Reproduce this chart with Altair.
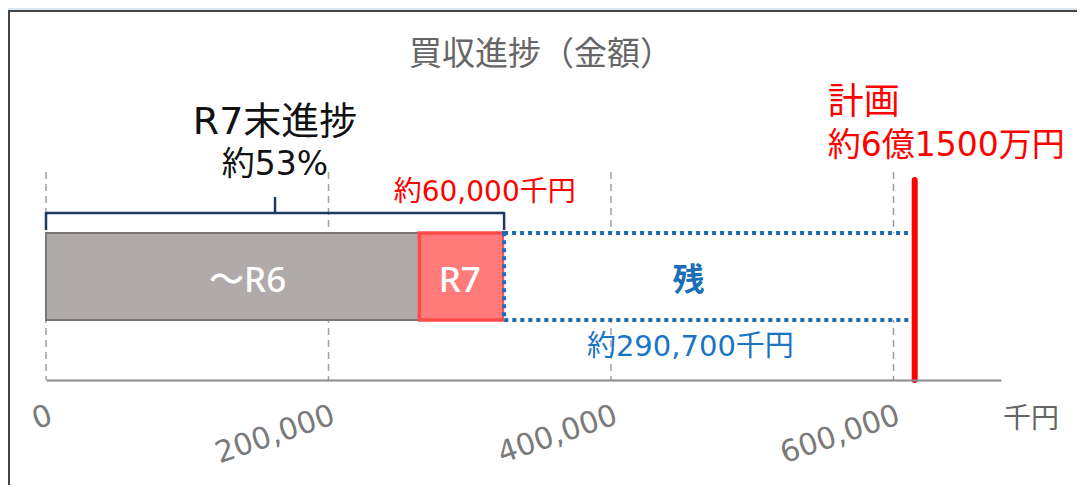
import altair as alt
import pandas as pd

# ---- data ----
segments = ["～R6", "R7", "残"]
values = [264300, 60000, 290700]
plan_value = 615000
tick_values = [0, 200000, 400000, 600000]
title_text = "買収進捗（金額）"
unit_text = "千円"
progress_label = "R7末進捗"
progress_pct = "約53%"
r7_amount = "約60,000千円"
rest_amount = "約290,700千円"
plan_label = "計画"
plan_amount = "約6億1500万円"

starts = [sum(values[:i]) for i in range(len(values))]
df = pd.DataFrame({
    "seg": segments,
    "start": starts,
    "end": [s + v for s, v in zip(starts, values)],
    "row": ["金額"] * 3,
})
df["mid"] = (df["start"] + df["end"]) / 2
done_total = values[0] + values[1]

JP = "Noto Sans CJK JP"
MIX = "DejaVu Sans, Noto Sans CJK JP"
SEMI = "Noto Sans, Noto Sans CJK JP"
xs = alt.Scale(domain=[0, 676100], range=[38, 993])
ys = alt.Scale(range=[225, 312], paddingInner=0, paddingOuter=0)

base = alt.Chart(df)

# panel
panel = alt.Chart(pd.DataFrame({"a": [0]})).mark_rect(
    fill="white", stroke="#444444", strokeWidth=2
).encode(x=alt.value(1), x2=alt.value(1090), y=alt.value(3), y2=alt.value(500))

# grid lines + axis
grid = alt.Chart(pd.DataFrame({"t": tick_values})).mark_rule(
    color="#a0a0a0", strokeWidth=1.5, strokeDash=[7, 5]
).encode(
    x=alt.X("t:Q", scale=xs,
            axis=alt.Axis(values=tick_values, format=",d", title=None, grid=False,
                          ticks=False, domainColor="#8a8a8a", domainWidth=2,
                          labelFont="DejaVu Sans", labelFontSize=30, labelColor="#7a7a7a",
                          labelAngle=341, labelAlign="right", labelBaseline="top",
                          labelPadding=20, labelFlush=False, labelOverlap=False,
                          zindex=1)),
    y=alt.value(164), y2=alt.value(372),
)

def seg_bar(name, **kw):
    return base.transform_filter(alt.datum.seg == name).mark_bar(**kw).encode(
        x=alt.X("start:Q", scale=xs), x2="end:Q",
        y=alt.Y("row:N", scale=ys, axis=None),
    )

bar_r6 = seg_bar("～R6", fill="#b0abaa", stroke="#7a7674", strokeWidth=2)
bar_r7 = seg_bar("R7", fill="#ff7b7b", stroke="#ff4a4a", strokeWidth=3.5)
bar_rest = seg_bar("残", fill="white", stroke="#1f6cb0", strokeWidth=4,
                   strokeDash=[4, 4], strokeCap="butt")

# brace
bdf = pd.DataFrame({"s": [0], "e": [done_total], "m": [done_total / 2]})
bc = "#1f3864"
brace_h = alt.Chart(bdf).mark_rule(color=bc, strokeWidth=2.5).encode(
    x=alt.X("s:Q", scale=xs), x2="e:Q", y=alt.value(205))
brace_l = alt.Chart(bdf).mark_rule(color=bc, strokeWidth=2.5).encode(
    x=alt.X("s:Q", scale=xs), y=alt.value(204), y2=alt.value(222))
brace_r = alt.Chart(bdf).mark_rule(color=bc, strokeWidth=2.5).encode(
    x=alt.X("e:Q", scale=xs), y=alt.value(204), y2=alt.value(222))
brace_m = alt.Chart(bdf).mark_rule(color=bc, strokeWidth=2.5).encode(
    x=alt.X("m:Q", scale=xs), y=alt.value(189), y2=alt.value(206))

# plan line
pdf = pd.DataFrame({"p": [plan_value]})
plan_line = alt.Chart(pdf).mark_rule(color="#ff0000", strokeWidth=6, strokeCap="round").encode(
    x=alt.X("p:Q", scale=xs), y=alt.value(172), y2=alt.value(372))

def txt(data, field, text, y, size, color, dx=0, align="center", weight="normal", font=MIX):
    return alt.Chart(data).mark_text(
        text=text, font=font, fontSize=size, color=color, dx=dx,
        align=align, baseline="middle", fontWeight=weight
    ).encode(x=alt.X(field, scale=xs), y=alt.value(y))

title = alt.Chart(pd.DataFrame({"a": [0]})).mark_text(
    text=title_text, font=JP, fontSize=33, color="#666666", align="center", baseline="middle"
).encode(x=alt.value(533), y=alt.value(47))

unit = alt.Chart(pd.DataFrame({"a": [0]})).mark_text(
    text=unit_text, font=JP, fontSize=28, color="#666666", align="left", baseline="middle"
).encode(x=alt.value(995), y=alt.value(412))

t_prog = txt(bdf, "m:Q", progress_label, 115, 38, "#111111")
t_pct = txt(bdf, "m:Q", progress_pct, 157, 33, "#111111")

r6 = df[df.seg == "～R6"]
r7 = df[df.seg == "R7"]
rest = df[df.seg == "残"]

t_r6 = txt(r6, "mid:Q", "～R6", 273, 35, "white", dx=15, weight=500, font=SEMI)
t_r7 = txt(r7, "mid:Q", "R7", 273, 35, "white", dx=-2, weight=500, font=SEMI)
t_rest = txt(rest, "mid:Q", "残", 273, 32, "#1a6fb8", dx=-21, weight="bold", font=JP)
t_r7amt = txt(r7, "mid:Q", r7_amount, 185, 28, "#ff0000", dx=23)
t_restamt = txt(rest, "mid:Q", rest_amount, 339, 29, "#1a75c4", dx=-19)
t_plan = txt(pdf, "p:Q", plan_label, 95, 36, "#ff0000", dx=-87, align="left", font=JP)
t_planamt = txt(pdf, "p:Q", plan_amount, 138, 33, "#ff0000", dx=-87, align="left")

chart = alt.layer(
    panel, grid, bar_r6, bar_r7, bar_rest,
    brace_h, brace_l, brace_r, brace_m, plan_line,
    title, unit, t_prog, t_pct, t_r6, t_r7, t_rest, t_r7amt, t_restamt, t_plan, t_planamt,
).properties(
    width=1069, height=372,
    autosize=alt.AutoSizeParams(type="none"),
    padding={"left": 0, "top": 0, "right": 0, "bottom": 105},
    background="#dae6f0",
).configure_view(stroke=None)

chart.save("out.html", embed_options={"renderer": "svg", "actions": False})
